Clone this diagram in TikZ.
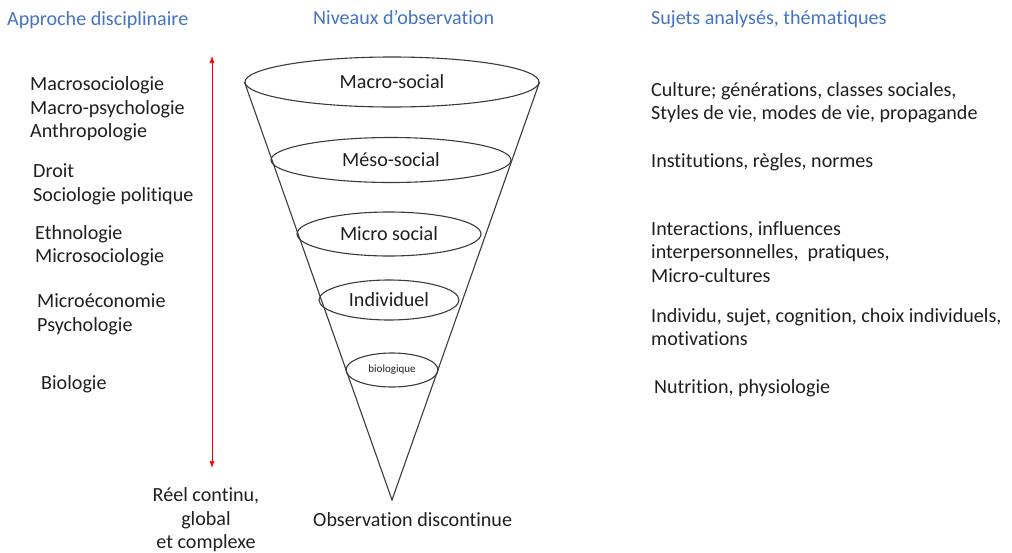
\documentclass[tikz,border=0pt]{standalone}
\usepackage{fontspec}
\setmainfont{Carlito}[Ligatures=NoCommon]
\usetikzlibrary{shapes.geometric,arrows.meta}
\definecolor{headblue}{HTML}{4472C4}
\definecolor{inkgray}{HTML}{3A3A3A}
\begin{document}
\begin{tikzpicture}[x=1pt,y=-1pt,
  every node/.style={inner sep=0pt, font=\fontsize{20.1}{23.5}\selectfont},
  header/.style={text=headblue, anchor=west},
  listtext/.style={anchor=west, align=left, text=black!88},
  level/.style={ellipse, draw=inkgray, line width=1.1pt, text=black!88},
  cone/.style={draw=inkgray, line width=1.1pt},
  scalearrow/.style={draw=red, line width=0.7pt, {Latex[length=7pt,width=5pt]}-{Latex[length=7pt,width=5pt]}}
]
\useasboundingbox (0,0) rectangle (1012,552);

% column headers
\node[header] (h1) at (7,20) {Approche disciplinaire};
\node[header] (h2) at (313,17) {Niveaux d’observation};
\node[header] (h3) at (651,19) {Sujets analysés, thématiques};

% observation levels (funnel)
\coordinate (apex) at (392,500);
\node[level, minimum width=294pt, minimum height=50pt] (macro) at (392,82) {Macro-social};
\draw[cone] (macro.west) -- (apex) -- (macro.east);
\node[level, minimum width=240pt, minimum height=45pt] (meso) at (391,160) {Méso-social};
\node[level, minimum width=184pt, minimum height=44pt] (micro) at (389,234) {Micro social};
\node[level, minimum width=140pt, minimum height=40pt] (indiv) at (389,300) {Individuel};
\node[level, minimum width=92pt, minimum height=34pt, font=\fontsize{11}{13}\selectfont] (bio) at (392,370) {biologique};

% vertical scale
\coordinate (scaletop) at (212,56);
\coordinate (scalebot) at (212,468);
\draw[scalearrow] (scaletop) -- (scalebot);

% disciplines
\node[listtext] (d1) at (30,109) {Macrosociologie\\Macro-psychologie\\Anthropologie};
\node[listtext] (d2) at (33,184.5) {Droit\\Sociologie politique};
\node[listtext] (d3) at (35,245.5) {Ethnologie\\Microsociologie};
\node[listtext] (d4) at (37,314.5) {Microéconomie\\Psychologie};
\node[listtext] (d5) at (41,384) {Biologie};

% themes
\node[listtext] (t1) at (651,102.5) {Culture; générations, classes sociales,\\Styles de vie, modes de vie, propagande};
\node[listtext] (t2) at (651,162) {Institutions, règles, normes};
\node[listtext] (t3) at (651,252) {Interactions, influences\\interpersonnelles,\ \ pratiques,\\Micro-cultures};
\node[listtext] (t4) at (651,327) {Individu, sujet, cognition, choix individuels,\\motivations};
\node[listtext] (t5) at (654,388) {Nutrition, physiologie};

% bottom captions
\node[align=center, text=black!88] (real) at (206,520) {Réel continu,\\global\\et complexe};
\node[anchor=west, text=black!88] (obs) at (313,520) {Observation discontinue};
\end{tikzpicture}
\end{document}
